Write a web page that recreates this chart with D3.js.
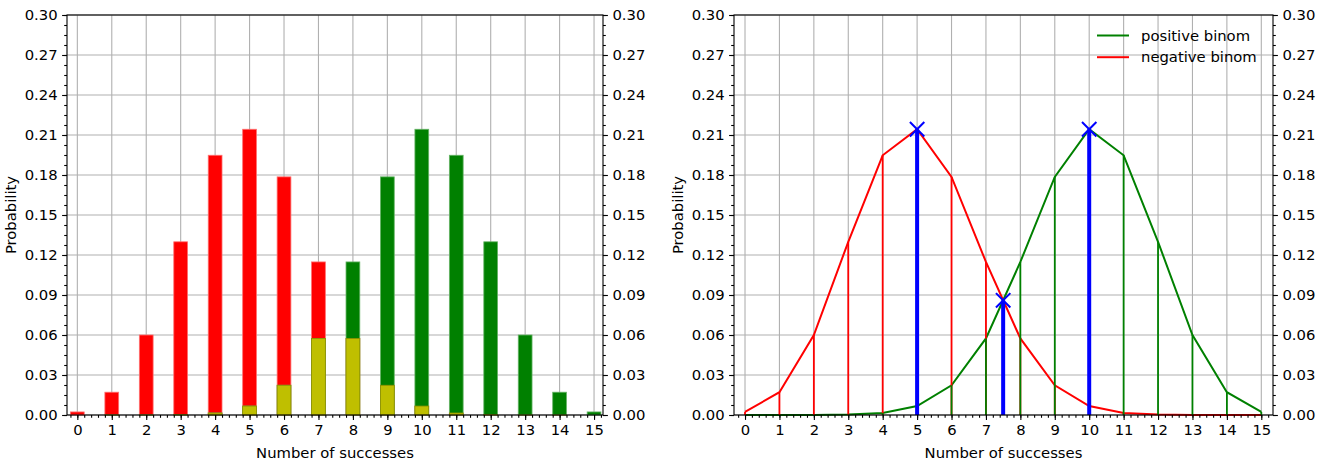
<!doctype html>
<html>
<head>
<meta charset="utf-8">
<script src="https://cdn.jsdelivr.net/npm/d3@7"></script>
<style>
html,body{
    margin: 0;
    background: #fff;
    overflow: hidden;
}
text {
    font-family: "DejaVu Sans", sans-serif;
    font-size: 14.8px;
    fill: #000;
}
</style>
</head>
<body>
<script>
// data
var successes = d3.range(0, 16);
var negBinom = [0.0023, 0.0171, 0.0600, 0.1299, 0.1948, 0.2143, 0.1786, 0.1148,
                0.0574, 0.0223, 0.0067, 0.0015, 0.0003, 0.00003, 0.000002, 0.0];
var posBinom = [0.0, 0.000002, 0.00003, 0.0003, 0.0015, 0.0067, 0.0223, 0.0574,
                0.1148, 0.1786, 0.2143, 0.1948, 0.1299, 0.0600, 0.0171, 0.0023];
var markX = [5, 10, 7.5];
var markY = [0.2143, 0.2143, 0.086];
var yTicks = [0, 0.03, 0.06, 0.09, 0.12, 0.15, 0.18, 0.21, 0.24, 0.27, 0.30];
var legendNames = ["positive binom", "negative binom"];

var W = 1331, H = 464;
var top_ = 15, bottom = 415;
var RED = "#ff0000", GREEN = "#008000", OLIVE = "#bfbf00", BLUE = "#0000ff";

var svg = d3.select("body").append("svg")
    .attr("width", W)
    .attr("height", H);

function panel(left, right, xDomain) {
    var g = svg.append("g");
    var x = d3.scaleLinear().domain(xDomain).range([left, right]);
    var y = d3.scaleLinear().domain([0, 0.30]).range([bottom, top_]);

    // grid
    var grid = g.append("g").attr("class", "grid");
    grid.selectAll("line.gx").data(successes).enter().append("line")
        .attr("x1", function(d){return x(d)}).attr("x2", function(d){return x(d)})
        .attr("y1", top_).attr("y2", bottom)
        .attr("stroke", "#b0b0b0").attr("stroke-width", 1.1);
    grid.selectAll("line.gy").data(yTicks).enter().append("line")
        .attr("x1", left).attr("x2", right)
        .attr("y1", function(d){return y(d)}).attr("y2", function(d){return y(d)})
        .attr("stroke", "#b0b0b0").attr("stroke-width", 1.1);

    var marks = g.append("g");
    var axes = g.append("g");

    var yMinor = d3.range(0, 0.3001, 0.0075);
    var xMinor = d3.range(-0.2, 15.3, 0.2).filter(function(v){return v >= xDomain[0] && v <= xDomain[1]});

    function style(a) {
        a.select(".domain").remove();
        a.selectAll("line").attr("stroke", "#000").attr("stroke-width", 1.1);
    }

    axes.append("g").attr("transform", "translate(" + left + ",0)")
        .call(d3.axisLeft(y).tickValues(yMinor).tickSize(2.8).tickFormat(""))
        .call(style);
    axes.append("g").attr("transform", "translate(" + left + ",0)")
        .call(d3.axisLeft(y).tickValues(yTicks).tickSize(4.9).tickPadding(4.5).tickFormat(d3.format(".2f")))
        .call(style);
    axes.append("g").attr("transform", "translate(" + right + ",0)")
        .call(d3.axisRight(y).tickValues(yMinor).tickSize(2.8).tickFormat(""))
        .call(style);
    axes.append("g").attr("transform", "translate(" + right + ",0)")
        .call(d3.axisRight(y).tickValues(yTicks).tickSize(4.9).tickPadding(4.5).tickFormat(d3.format(".2f")))
        .call(style);
    axes.append("g").attr("transform", "translate(0," + bottom + ")")
        .call(d3.axisBottom(x).tickValues(xMinor).tickSize(2.8).tickFormat(""))
        .call(style);
    axes.append("g").attr("transform", "translate(0," + bottom + ")")
        .call(d3.axisBottom(x).tickValues(successes).tickSize(4.9).tickPadding(4.5).tickFormat(d3.format("d")))
        .call(style);
    axes.selectAll("text").style("font-family", "DejaVu Sans").style("font-size", "14.8px").attr("fill", "#000");

    axes.append("rect")
        .attr("x", left).attr("y", top_)
        .attr("width", right - left).attr("height", bottom - top_)
        .attr("fill", "none").attr("stroke", "#000").attr("stroke-width", 1.1);

    g.append("text")
        .attr("x", (left + right) / 2).attr("y", 458)
        .attr("text-anchor", "middle")
        .text("Number of successes");
    g.append("text")
        .attr("transform", "translate(" + (left - 51) + "," + ((top_ + bottom) / 2) + ") rotate(-90)")
        .attr("text-anchor", "middle")
        .text("Probability");

    return {g: marks, x: x, y: y};
}

// ---- left: bars ----
var L = panel(67, 603, [-0.3, 15.26]);
var bw = L.x(0.2) - L.x(-0.2);

function bars(sel, vals, fill, edge) {
    sel.selectAll(null).data(successes).enter().append("rect")
        .attr("x", function(d){return L.x(d) - bw / 2})
        .attr("y", function(d){return L.y(vals[d])})
        .attr("width", bw)
        .attr("height", function(d){return L.y(0) - L.y(vals[d])})
        .attr("fill", fill)
        .attr("stroke", edge).attr("stroke-width", 0.8);
}
var overlap = successes.map(function(d){return Math.min(negBinom[d], posBinom[d])});
bars(L.g.append("g"), negBinom, RED, "#ff7070");
bars(L.g.append("g"), posBinom, GREEN, "#66b366");
bars(L.g.append("g"), overlap, OLIVE, "#8f8f00");

// ---- right: lines ----
var R = panel(734, 1273, [-0.32, 15.34]);

var line = d3.line()
    .x(function(d){return R.x(d)});

R.g.append("path")
    .attr("d", line.y(function(d){return R.y(posBinom[d])})(successes))
    .attr("fill", "none").attr("stroke", GREEN).attr("stroke-width", 2);
R.g.append("path")
    .attr("d", line.y(function(d){return R.y(negBinom[d])})(successes))
    .attr("fill", "none").attr("stroke", RED).attr("stroke-width", 2);

function stems(vals, color) {
    R.g.append("g").selectAll("line").data(successes).enter().append("line")
        .attr("x1", function(d){return R.x(d)}).attr("x2", function(d){return R.x(d)})
        .attr("y1", R.y(0)).attr("y2", function(d){return R.y(vals[d])})
        .attr("stroke", color).attr("stroke-width", 1.8);
}
stems(negBinom, RED);
stems(posBinom, GREEN);

var mk = R.g.append("g");
mk.selectAll("line.bar").data(markX).enter().append("line")
    .attr("x1", function(d){return R.x(d)}).attr("x2", function(d){return R.x(d)})
    .attr("y1", R.y(0)).attr("y2", function(d, i){return R.y(markY[i])})
    .attr("stroke", BLUE).attr("stroke-width", 4);
var s = 7.2;
mk.selectAll("path.x").data(markX).enter().append("path")
    .attr("d", function(d, i){
        var cx = R.x(d), cy = R.y(markY[i]);
        return "M" + (cx - s) + "," + (cy - s) + "L" + (cx + s) + "," + (cy + s) +
               "M" + (cx - s) + "," + (cy + s) + "L" + (cx + s) + "," + (cy - s);
    })
    .attr("stroke", BLUE).attr("stroke-width", 2).attr("fill", "none");

// legend
var lg = R.g.append("g").attr("transform", "translate(1097,35.5)");
var legendColors = [GREEN, RED];
legendNames.forEach(function(n, i){
    lg.append("line")
        .attr("x1", 0).attr("x2", 32)
        .attr("y1", i * 21.7).attr("y2", i * 21.7)
        .attr("stroke", legendColors[i]).attr("stroke-width", 2);
    lg.append("text")
        .attr("x", 44).attr("y", i * 21.7)
        .attr("dy", "0.35em")
        .text(n);
});
</script>
</body>
</html>
